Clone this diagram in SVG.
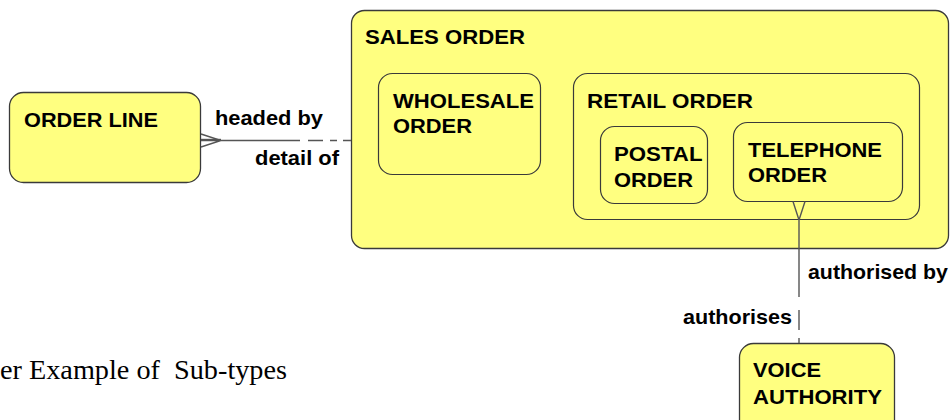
<svg xmlns="http://www.w3.org/2000/svg" width="951" height="420" viewBox="0 0 951 420">
<style>
.box{fill:#ffff80;stroke:#3a3a3a;stroke-width:1.3}
.sub{fill:none;stroke:#3a3a3a;stroke-width:1.2}
.t{font-family:"Liberation Sans",Arial,sans-serif;font-weight:bold;font-size:21px;fill:#000}
.ln{stroke:#555;stroke-width:1.4;fill:none}
.cap{font-family:"Liberation Serif","Times New Roman",serif;font-size:27px;fill:#000;white-space:pre}
</style>
<rect width="951" height="420" fill="#fff"/>
<g id="sales-order">
<rect class="box" x="351.5" y="10.5" width="597" height="238" rx="13"/>
<text class="t" x="365" y="44" textLength="160" lengthAdjust="spacingAndGlyphs">SALES ORDER</text>
</g>
<g id="wholesale-order">
<rect class="sub" x="378.5" y="73.5" width="162" height="101" rx="14"/>
<text class="t" x="393" y="108" textLength="141" lengthAdjust="spacingAndGlyphs">WHOLESALE</text>
<text class="t" x="393" y="133" textLength="79" lengthAdjust="spacingAndGlyphs">ORDER</text>
</g>
<g id="retail-order">
<rect class="sub" x="573.5" y="73.5" width="346" height="146" rx="14"/>
<text class="t" x="587" y="108" textLength="166" lengthAdjust="spacingAndGlyphs">RETAIL ORDER</text>
</g>
<g id="postal-order">
<rect class="sub" x="600.5" y="126.5" width="107" height="77" rx="14"/>
<text class="t" x="614" y="161" textLength="88.5" lengthAdjust="spacingAndGlyphs">POSTAL</text>
<text class="t" x="614" y="187" textLength="79" lengthAdjust="spacingAndGlyphs">ORDER</text>
</g>
<g id="telephone-order">
<rect class="sub" x="733.5" y="122.5" width="169" height="79" rx="14"/>
<text class="t" x="748" y="157" textLength="134" lengthAdjust="spacingAndGlyphs">TELEPHONE</text>
<text class="t" x="748" y="182" textLength="79" lengthAdjust="spacingAndGlyphs">ORDER</text>
</g>
<g id="order-line">
<rect class="box" x="9.5" y="92.5" width="191" height="90" rx="14"/>
<text class="t" x="24" y="127" textLength="134" lengthAdjust="spacingAndGlyphs">ORDER LINE</text>
</g>
<g id="voice-authority">
<rect class="box" x="739.5" y="343.5" width="155" height="95" rx="14"/>
<text class="t" x="753" y="377" textLength="68" lengthAdjust="spacingAndGlyphs">VOICE</text>
<text class="t" x="753" y="404" textLength="129" lengthAdjust="spacingAndGlyphs">AUTHORITY</text>
</g>
<g id="connectors">
<path class="ln" d="M201 134 L221 140.5 L201 147 M201 140.5 H300 M308 140.5 H323 M330 140.5 H337 M343 140.5 H351"/>
<path class="ln" d="M201 139.5 H221" stroke-width="2"/>
<path class="ln" d="M793 201.5 L799 220 L805 201.5 M799 220 V297 M799 310 V330 M799 338 V343"/>
<text class="t" x="215" y="125" textLength="108" lengthAdjust="spacingAndGlyphs">headed by</text>
<text class="t" x="255" y="165" textLength="84" lengthAdjust="spacingAndGlyphs">detail of</text>
<text class="t" x="808" y="279" textLength="140" lengthAdjust="spacingAndGlyphs">authorised by</text>
<text class="t" x="683" y="324" textLength="109" lengthAdjust="spacingAndGlyphs">authorises</text>
</g>
<text class="cap" x="0" y="379" textLength="287" lengthAdjust="spacingAndGlyphs">er Example of  Sub-types</text>
</svg>
